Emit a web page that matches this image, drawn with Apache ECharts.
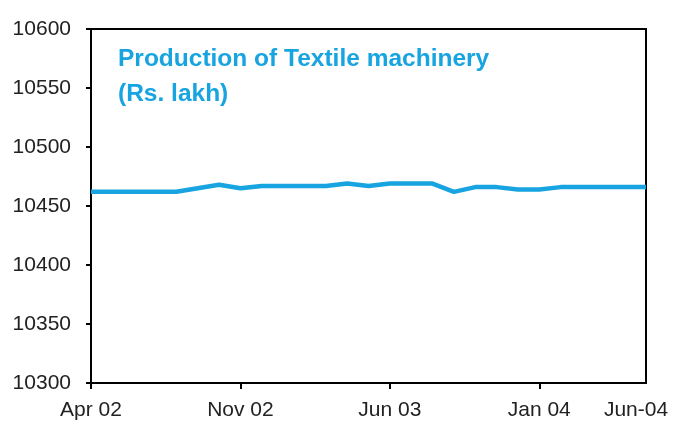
<!DOCTYPE html>
<html>
<head>
<meta charset="utf-8">
<script src="https://cdn.jsdelivr.net/npm/echarts@6/dist/echarts.min.js"></script>
<style>
  html, body { margin: 0; padding: 0; background: #fff; }
  #chart { width: 674px; height: 426px; }
</style>
</head>
<body>
<div id="chart"></div>
<script>
// monthly categories, Apr 02 .. Jun 04
var months = [
  'Apr 02', 'May 02', 'Jun 02', 'Jul 02', 'Aug 02', 'Sep 02', 'Oct 02',
  'Nov 02', 'Dec 02', 'Jan 03', 'Feb 03', 'Mar 03', 'Apr 03', 'May 03',
  'Jun 03', 'Jul 03', 'Aug 03', 'Sep 03', 'Oct 03', 'Nov 03', 'Dec 03',
  'Jan 04', 'Feb 04', 'Mar 04', 'Apr 04', 'May 04', 'Jun-04'
];
// production, Rs. lakh
var production = [
  10462, 10462, 10462, 10462, 10462, 10465, 10468,
  10465, 10467, 10467, 10467, 10467, 10469, 10467,
  10469, 10469, 10469, 10462, 10466, 10466, 10464,
  10464, 10466, 10466, 10466, 10466, 10466
];
var labelIdx = [0, 7, 14, 21, 26];
var tickIdx = [0, 7, 14, 21];

(function () {
  var myChart = echarts.init(document.getElementById('chart'));
  var blue = '#17a4e0';

  var option = {
    animation: false,
    title: {
      text: 'Production of Textile machinery\n(Rs. lakh)',
      left: 113,
      top: 37,
      textStyle: {
        color: blue,
        fontSize: 24.5,
        fontWeight: 'bold',
        fontFamily: 'Liberation Sans, Arial, sans-serif',
        lineHeight: 35
      }
    },
    grid: {
      left: 91,
      right: 28,
      top: 29,
      bottom: 43,
      show: true,
      borderColor: '#000',
      borderWidth: 2,
      backgroundColor: '#fff'
    },
    xAxis: {
      type: 'category',
      boundaryGap: false,
      data: months,
      axisLine: { lineStyle: { color: '#000', width: 2 } },
      axisTick: {
        length: 6,
        lineStyle: { color: '#000', width: 2 },
        interval: function (i) { return tickIdx.indexOf(i) >= 0; }
      },
      axisLabel: {
        interval: function (i) { return labelIdx.indexOf(i) >= 0; },
        margin: 17,
        color: '#222',
        fontSize: 21,
        fontFamily: 'Liberation Sans, Arial, sans-serif',
        formatter: function (v, i) {
          return i === months.length - 1 ? '{last|' + v + '}' : v;
        },
        rich: {
          last: {
            fontSize: 21,
            color: '#222',
            fontFamily: 'Liberation Sans, Arial, sans-serif',
            padding: [0, 20, 0, 0]
          }
        }
      },
      splitLine: { show: false }
    },
    yAxis: {
      type: 'value',
      min: 10300,
      max: 10600,
      interval: 50,
      axisLine: { show: true, lineStyle: { color: '#000', width: 2 } },
      axisTick: { show: true, length: 5, lineStyle: { color: '#000', width: 2 } },
      axisLabel: {
        margin: 20,
        color: '#222',
        fontSize: 21,
        fontFamily: 'Liberation Sans, Arial, sans-serif',
        formatter: function (v) { return String(v); }
      },
      splitLine: { show: false }
    },
    series: [
      {
        type: 'line',
        data: production,
        showSymbol: false,
        lineStyle: { color: blue, width: 4.5 },
        itemStyle: { color: blue }
      }
    ]
  };
  myChart.setOption(option);
})();
</script>
</body>
</html>
